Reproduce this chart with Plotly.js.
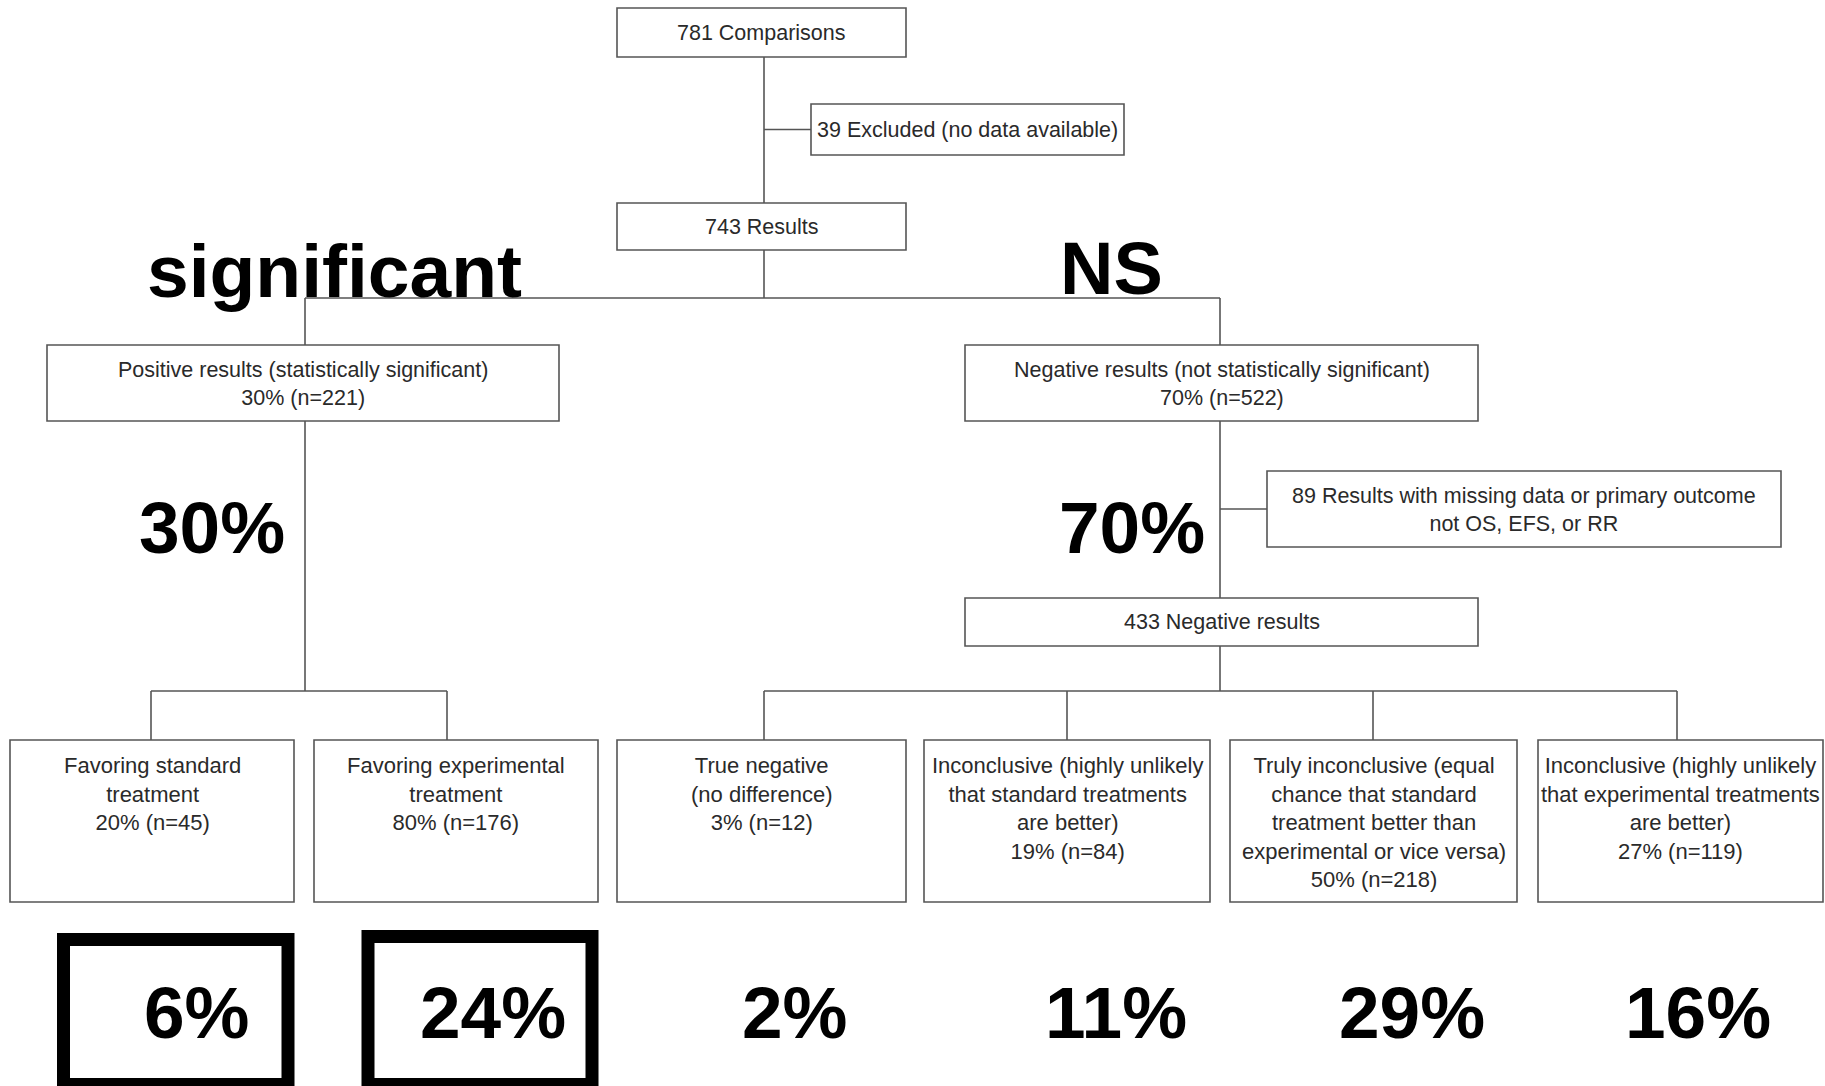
<!DOCTYPE html>
<html><head><meta charset="utf-8">
<script src="https://cdn.plot.ly/plotly-3.0.1.min.js"></script>
<style>html,body{margin:0;padding:0;background:#fff;overflow:hidden}#chart{width:1825px;height:1086px}</style>
</head><body><div id="chart"></div>
<script>
// ---------- data ----------
const totalComparisons = 781;
const excludedCount = 39;
const resultsCount = 743;
const branchLabels = ["Positive results (statistically significant)", "Negative results (not statistically significant)"];
const branchPercents = [30, 70];
const branchCounts = [221, 522];
const branchHeadings = ["significant", "NS"];
const missingCount = 89;
const negativeCount = 433;
const outcomeLabels = [
  "Favoring standard<br>treatment",
  "Favoring experimental<br>treatment",
  "True negative<br>(no difference)",
  "Inconclusive (highly unlikely<br>that standard treatments<br>are better)",
  "Truly inconclusive (equal<br>chance that standard<br>treatment better than<br>experimental or vice versa)",
  "Inconclusive (highly unlikely<br>that experimental treatments<br>are better)"
];
const outcomePercents = [20, 80, 3, 19, 50, 27];
const outcomeCounts = [45, 176, 12, 84, 218, 119];
const overallPercents = [6, 24, 2, 11, 29, 16];
const highlighted = [true, true, false, false, false, false];

// ---------- layout geometry ----------
const W = 1825, H = 1086;
const spineX = 764;
const topBoxX = [617, 906];
const y781 = [8, 57], y743 = [203, 250];
const excBox = [811, 104, 1124, 155];
const branchBoxesX = [[47, 559], [965, 1478]];
const branchX = [305, 1220];
const branchY = [345, 421];
const splitY = 298;
const missBox = [1267, 471, 1781, 547];
const neg433Y = [598, 646];
const fanY = 691;
const outX = [[10, 294], [314, 598], [617, 906], [924, 1210], [1230, 1517], [1538, 1823]];
const outDropX = [151, 447, 764, 1067, 1373, 1677];
const outY = [740, 902];
const headingPos = [[334, 271], [1111, 268]];
const headingSizes = [75, 74];
const branchPctPos = [[212, 527], [1132, 527]];
const overallX = [197, 493, 795, 1116, 1412, 1698];
const overallY = 1012;
const hiBoxX = [[63.5, 288], [368, 592]];
const hiBoxY = [[939.5, 1084.5], [936.5, 1084.5]];

const lineCol = "#555";
const textCol = "#2a2a2a";
const FAM = "Liberation Sans, Arial, sans-serif";
const smallFont = {family: FAM, size: 21.5, color: textCol};
const boxFont = {family: FAM, size: 22, color: textCol};
const bigFont = {family: FAM, size: 73, color: "#000", weight: "bold"};

const shapes = [];
const ann = [];
function rect(x0, y0, x1, y1, w, c) {
  shapes.push({type: "rect", xref: "x", yref: "y", x0, y0, x1, y1, line: {color: c || lineCol, width: w || 1.6}, fillcolor: "rgba(0,0,0,0)"});
}
function seg(x0, y0, x1, y1) {
  shapes.push({type: "line", xref: "x", yref: "y", x0, y0, x1, y1, line: {color: lineCol, width: 1.6}});
}
function txt(x, y, text, font, ya) {
  ann.push({x, y, xref: "x", yref: "y", text, showarrow: false, font, xanchor: "center", yanchor: ya || "middle", align: "center"});
}

// top chain
rect(topBoxX[0], y781[0], topBoxX[1], y781[1]);
txt((topBoxX[0] + topBoxX[1]) / 2, (y781[0] + y781[1]) / 2, totalComparisons + " Comparisons", smallFont);
seg(spineX, y781[1], spineX, y743[0]);
seg(spineX, (excBox[1] + excBox[3]) / 2, excBox[0], (excBox[1] + excBox[3]) / 2);
rect(excBox[0], excBox[1], excBox[2], excBox[3]);
txt((excBox[0] + excBox[2]) / 2, (excBox[1] + excBox[3]) / 2, excludedCount + " Excluded (no data available)", smallFont);
rect(topBoxX[0], y743[0], topBoxX[1], y743[1]);
txt((topBoxX[0] + topBoxX[1]) / 2, (y743[0] + y743[1]) / 2, resultsCount + " Results", smallFont);
seg(spineX, y743[1], spineX, splitY);
seg(branchX[0], splitY, branchX[1], splitY);

// branches
branchLabels.forEach((lab, i) => {
  seg(branchX[i], splitY, branchX[i], branchY[0]);
  const bx = branchBoxesX[i];
  rect(bx[0], branchY[0], bx[1], branchY[1]);
  txt((bx[0] + bx[1]) / 2, (branchY[0] + branchY[1]) / 2 + 1, lab + "<br>" + branchPercents[i] + "% (n=" + branchCounts[i] + ")", smallFont);
  txt(headingPos[i][0], headingPos[i][1], branchHeadings[i], Object.assign({}, bigFont, {size: headingSizes[i]}));
  txt(branchPctPos[i][0], branchPctPos[i][1], branchPercents[i] + "%", bigFont);
});

// left branch down to fan
seg(branchX[0], branchY[1], branchX[0], fanY);
// right branch
seg(branchX[1], branchY[1], branchX[1], neg433Y[0]);
seg(branchX[1], (missBox[1] + missBox[3]) / 2, missBox[0], (missBox[1] + missBox[3]) / 2);
rect(missBox[0], missBox[1], missBox[2], missBox[3]);
txt((missBox[0] + missBox[2]) / 2, (missBox[1] + missBox[3]) / 2 + 1, missingCount + " Results with missing data or primary outcome<br>not OS, EFS, or RR", smallFont);
rect(branchBoxesX[1][0], neg433Y[0], branchBoxesX[1][1], neg433Y[1]);
txt((branchBoxesX[1][0] + branchBoxesX[1][1]) / 2, (neg433Y[0] + neg433Y[1]) / 2, negativeCount + " Negative results", smallFont);
seg(branchX[1], neg433Y[1], branchX[1], fanY);

// fans
seg(outDropX[0], fanY, outDropX[1], fanY);
seg(outDropX[2], fanY, outDropX[5], fanY);

outcomeLabels.forEach((lab, i) => {
  seg(outDropX[i], fanY, outDropX[i], outY[0]);
  rect(outX[i][0], outY[0], outX[i][1], outY[1]);
  txt((outX[i][0] + outX[i][1]) / 2, outY[0] + 11, lab + "<br>" + outcomePercents[i] + "% (n=" + outcomeCounts[i] + ")", boxFont, "top");
  txt(overallX[i], overallY, overallPercents[i] + "%", bigFont);
});

// highlight boxes
highlighted.forEach((h, i) => {
  if (!h) return;
  rect(hiBoxX[i][0], hiBoxY[i][0], hiBoxX[i][1], hiBoxY[i][1], 13, "#000");
});

Plotly.newPlot("chart", [], {
  width: W, height: H,
  margin: {l: 0, r: 0, t: 0, b: 0, pad: 0},
  paper_bgcolor: "#fff", plot_bgcolor: "#fff",
  xaxis: {range: [0, W], visible: false, fixedrange: true},
  yaxis: {range: [H, 0], visible: false, fixedrange: true},
  showlegend: false,
  shapes, annotations: ann
}, {staticPlot: true, displayModeBar: false});
</script>
</body></html>
